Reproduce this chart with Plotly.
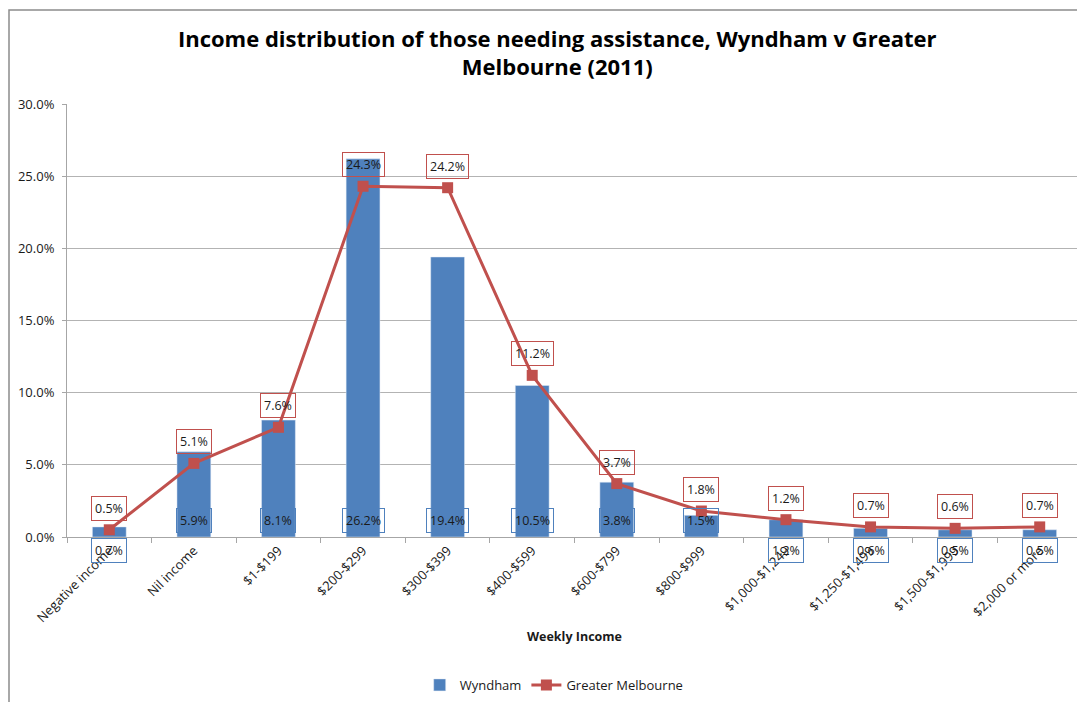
import plotly.graph_objects as go

categories = ["Negative income", "Nil income", "$1-$199", "$200-$299", "$300-$399",
              "$400-$599", "$600-$799", "$800-$999", "$1,000-$1,249", "$1,250-$1,499",
              "$1,500-$1,999", "$2,000 or more"]
wyndham = [0.7, 5.9, 8.1, 26.2, 19.4, 10.5, 3.8, 1.5, 1.2, 0.6, 0.5, 0.5]
greater_melbourne = [0.5, 5.1, 7.6, 24.3, 24.2, 11.2, 3.7, 1.8, 1.2, 0.7, 0.6, 0.7]
y_ticks = [0, 5, 10, 15, 20, 25, 30]
y_tick_labels = [f"{v:.1f}%" for v in y_ticks]

BLUE = "#4f81bd"
RED = "#c0504d"
FONT = "Open Sans"

fig = go.Figure()
fig.add_trace(go.Bar(x=categories, y=wyndham, name="Wyndham", marker_color=BLUE,
                     width=0.4))
fig.add_trace(go.Scatter(x=categories, y=greater_melbourne, name="Greater Melbourne",
                         mode="lines+markers",
                         line=dict(color=RED, width=3),
                         marker=dict(symbol="square", size=11, color=RED)))

annotations = []
for c, v in zip(categories, wyndham):
    inside = v >= 1.5
    annotations.append(dict(x=c, y=0, xref="x", yref="y", text=f"{v:.1f}%",
                            showarrow=False, yanchor="bottom" if inside else "top",
                            yshift=4 if inside else -1,
                            font=dict(family=FONT, size=12.5, color="#1a1a1a"),
                            bordercolor=BLUE, borderwidth=1, borderpad=3,
                            bgcolor="rgba(0,0,0,0)"))
for c, v in zip(categories, greater_melbourne):
    annotations.append(dict(x=c, y=v, xref="x", yref="y", text=f"{v:.1f}%",
                            showarrow=False, yanchor="bottom", yshift=9,
                            font=dict(family=FONT, size=12.5, color="#1a1a1a"),
                            bordercolor=RED, borderwidth=1, borderpad=3,
                            bgcolor="rgba(0,0,0,0)"))

# page has an 8px body margin, so the figure is shifted by 8px
W, H = 1077, 694
ml, mr, mt, mb = 59, 3, 96, 165
pw, ph = W - ml - mr, H - mt - mb
plot_bottom = mt + ph

fig.update_layout(
    width=W, height=H,
    margin=dict(l=ml, r=mr, t=mt, b=mb, autoexpand=False),
    paper_bgcolor="white", plot_bgcolor="white",
    font=dict(family=FONT, size=12, color="#1a1a1a"),
    title=dict(text="<b>Income distribution of those needing assistance, Wyndham v Greater<br>Melbourne (2011)</b>",
               x=0.51, xanchor="center", y=0.944, yanchor="top",
               font=dict(family=FONT, size=22, color="black")),
    xaxis=dict(title=dict(text="<b>Weekly Income</b>", font=dict(size=12.5), standoff=7),
               range=[-0.5, len(categories) - 0.5],
               tickangle=-45, showline=True, linecolor="#a6a6a6", linewidth=1,
               ticks="outside", tickson="boundaries", ticklen=5, tickcolor="#a6a6a6",
               tickfont=dict(size=13), automargin=False),
    yaxis=dict(range=[0, 30], tickvals=y_ticks, ticktext=y_tick_labels,
               showgrid=True, gridcolor="#b3b3b3", gridwidth=1,
               showline=True, linecolor="#a6a6a6", linewidth=1,
               ticks="outside", ticklen=4, tickcolor="#a6a6a6", zeroline=False,
               ticklabelstandoff=5,
               tickfont=dict(size=13), automargin=False),
    bargap=0.6,
    legend=dict(orientation="h", x=0.48, xanchor="center", y=-0.307, yanchor="top",
                font=dict(size=13)),
    annotations=annotations,
    shapes=[dict(type="rect", xref="paper", yref="paper",
                 x0=(1 - ml) / pw, x1=(W + 5 - ml) / pw,
                 y0=(plot_bottom - (H + 5)) / ph, y1=(plot_bottom - 2) / ph,
                 line=dict(color="#8c8c8c", width=1.5), fillcolor="rgba(0,0,0,0)",
                 layer="below")],
)

fig.write_html("out.html")
